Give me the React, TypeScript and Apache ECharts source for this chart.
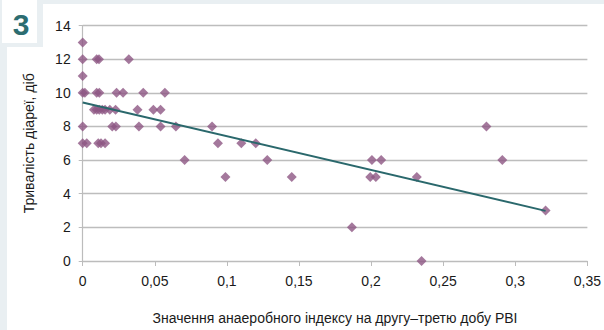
import React, { useEffect, useRef } from "react";
import * as echarts from "echarts";

const yTitle = "Тривалість діареї, діб";
const xTitle = "Значення анаеробного індексу на другу–третю добу PBI";
const badge = "3";

const yVals13 = [0];
const yVals12 = [0, 0.0097, 0.0113, 0.032];
const yVals11 = [0];
const yVals10 = [0, 0.0015, 0.0097, 0.0115, 0.0235, 0.028, 0.042, 0.057];
const yVals9 = [0.0078, 0.0097, 0.0115, 0.0136, 0.0155, 0.0188, 0.0228, 0.038, 0.049, 0.054];
const yVals8 = [0, 0.0205, 0.023, 0.039, 0.054, 0.0646, 0.0897, 0.28];
const yVals7 = [0, 0.0028, 0.0108, 0.0127, 0.0155, 0.0938, 0.11, 0.12];
const yVals6 = [0.0707, 0.128, 0.2006, 0.207, 0.291];
const yVals5 = [0.099, 0.145, 0.1994, 0.2033, 0.2317];
const yVals3 = [0.321];
const yVals2 = [0.1867];
const yVals0 = [0.235];

const rows: [number, number[]][] = [
  [13, yVals13], [12, yVals12], [11, yVals11], [10, yVals10], [9, yVals9],
  [8, yVals8], [7, yVals7], [6, yVals6], [5, yVals5], [3, yVals3], [2, yVals2], [0, yVals0],
];

const trendLine: [number, number][] = [[0, 9.43], [0.321, 2.98]];

const FONT = "'Liberation Sans Narrow', 'Arial Narrow', 'Liberation Sans', Arial, sans-serif";

export default function App() {
  const ref = useRef<HTMLDivElement>(null);
  useEffect(() => {
    if (!ref.current) return;
    const chart = echarts.init(ref.current, undefined, { renderer: "svg" });
    const points: [number, number][] = [];
    rows.forEach(([y, xs]) => xs.forEach((x) => points.push([x, y])));
    chart.setOption({
      animation: false,
      backgroundColor: "#e9eff2",
      graphic: [
        { type: "rect", shape: { x: 2, y: 0, width: 35, height: 43 }, style: { fill: "#ffffff" }, z: -10 },
        { type: "rect", shape: { x: 43, y: 4, width: 561, height: 326 }, style: { fill: "#ffffff" }, z: -10 },
        { type: "rect", shape: { x: 7, y: 47, width: 40, height: 283 }, style: { fill: "#ffffff" }, z: -10 },
        {
          type: "text", x: 21, y: 24, z: 10,
          style: { text: badge, fill: "#2c6d71", font: "bold 30px 'Liberation Sans', Arial, sans-serif", textAlign: "center", textVerticalAlign: "middle" },
        },
      ],
      grid: { left: 82.7, right: 15.3, top: 25.6, bottom: 65, containLabel: false },
      xAxis: {
        type: "value", min: 0, max: 0.35, interval: 0.05,
        name: xTitle, nameLocation: "middle", nameGap: 50,
        nameTextStyle: { fontFamily: FONT, fontSize: 14, color: "#1a1a1a" },
        axisLine: { show: true, lineStyle: { color: "#bcbcbc", width: 1.2 } },
        axisTick: { show: true, length: 5, lineStyle: { color: "#bcbcbc" } },
        splitLine: { show: false },
        axisLabel: {
          margin: 13, fontFamily: FONT, fontSize: 14, color: "#1a1a1a",
          formatter: (v: number) => String(+v.toFixed(2)).replace(".", ","),
        },
      },
      yAxis: {
        type: "value", min: 0, max: 14, interval: 2,
        name: yTitle, nameLocation: "middle", nameGap: 47, nameRotate: 90,
        nameTextStyle: { fontFamily: FONT, fontSize: 14, color: "#1a1a1a" },
        axisLine: { show: true, lineStyle: { color: "#bcbcbc", width: 1.2 } },
        axisTick: { show: true, length: 4, lineStyle: { color: "#bcbcbc" } },
        splitLine: { show: true, lineStyle: { color: "#bdbdbd", width: 1.4 } },
        axisLabel: { margin: 12, fontFamily: FONT, fontSize: 14, color: "#1a1a1a" },
      },
      series: [
        {
          type: "scatter", data: points, symbol: "diamond", symbolSize: 10,
          itemStyle: { color: "#8d5683" }, z: 3,
        },
        {
          type: "line", data: trendLine, symbol: "none", z: 4,
          lineStyle: { color: "#2a686c", width: 2 },
        },
      ],
    });
    return () => chart.dispose();
  }, []);
  return <div ref={ref} style={{ position: "absolute", left: 0, top: 0, width: 604, height: 330 }} />;
}
